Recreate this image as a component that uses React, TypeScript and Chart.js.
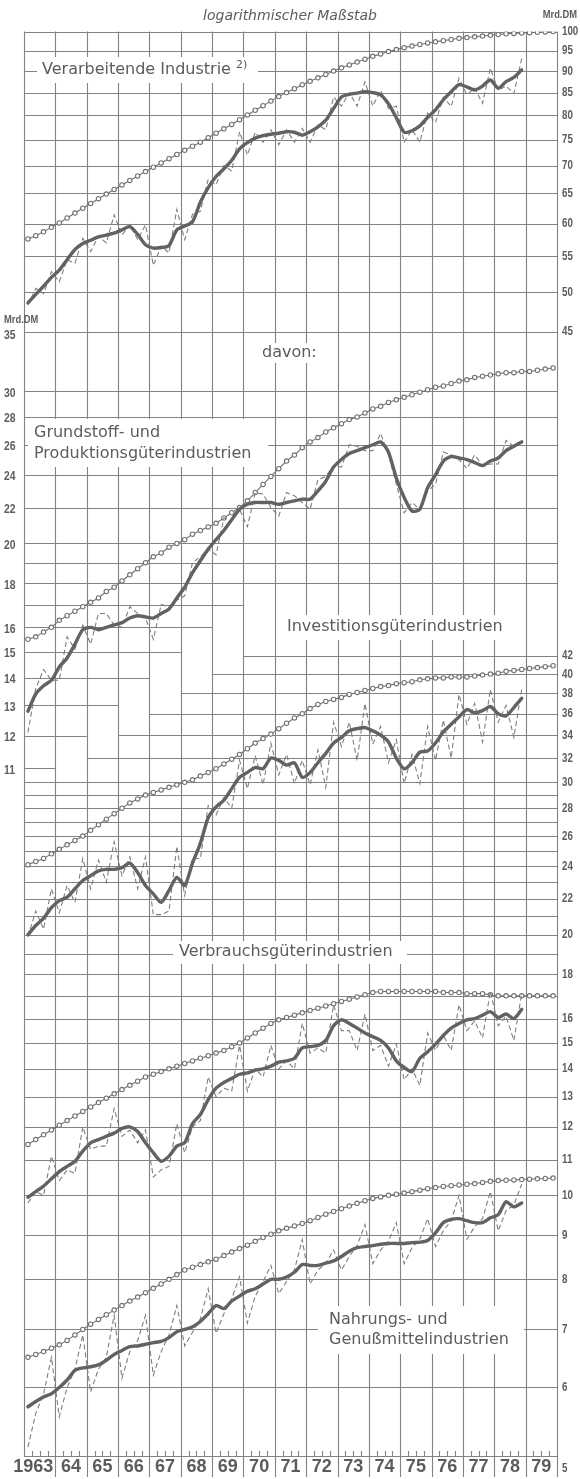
import React, { useEffect, useRef } from 'react';
import { Chart, registerables } from 'chart.js';

Chart.register(...registerables);

// ---------- categories ----------
const YEARS = [1963, 1964, 1965, 1966, 1967, 1968, 1969, 1970, 1971, 1972, 1973, 1974, 1975, 1976, 1977, 1978, 1979];
const YEAR_LABELS = ['1963', '64', '65', '66', '67', '68', '69', '70', '71', '72', '73', '74', '75', '76', '77', '78', '79'];
const QUARTER_OFFSETS = [0.125, 0.375, 0.625, 0.875];

// ---------- tick labels ----------
const TOP_TICKS = [100, 95, 90, 85, 80, 75, 70, 65, 60, 55, 50, 45];
const LEFT_TICKS = [35, 30, 28, 26, 24, 22, 20, 18, 16, 15, 14, 13, 12, 11];
const LOW_TICKS = [42, 40, 38, 36, 34, 32, 30, 28, 26, 24, 22, 20, 18, 16, 15, 14, 13, 12, 11, 10, 9, 8, 7, 6, 5];

// ---------- Verarbeitende Industrie (Mrd. DM) ----------
const verarbPotential = [
  57.6, 58.1, 58.7, 59.4, 60.1, 60.9, 61.7, 62.5, 63.3, 64.1, 64.9, 65.7, 66.5, 67.3, 68.1, 68.9,
  69.7, 70.5, 71.3, 72.1, 72.9, 73.7, 74.5, 75.4, 76.3, 77.2, 78.1, 79.1, 80.1, 81.1, 82.1, 83.1,
  84.1, 85.0, 85.9, 86.8, 87.6, 88.4, 89.2, 90.0, 90.8, 91.5, 92.2, 92.9, 93.6, 94.2, 94.8, 95.3,
  95.8, 96.2, 96.6, 97.0, 97.3, 97.6, 97.9, 98.2, 98.4, 98.6, 98.8, 99.0, 99.2, 99.4, 99.5, 99.6,
  99.7, 99.8, 99.9, 100.0,
];
const verarbAdjusted = [
  48.6, 49.7, 50.8, 52.0, 53.0, 54.5, 56.0, 56.9, 57.4, 57.9, 58.2, 58.5, 59.0, 59.5, 58.3, 56.7,
  56.2, 56.3, 56.6, 59.0, 59.6, 60.3, 63.5, 66.0, 68.0, 69.4, 71.0, 73.2, 74.4, 75.3, 75.8, 76.1,
  76.3, 76.6, 76.5, 75.9, 76.6, 77.6, 79.0, 81.5, 84.0, 84.6, 84.9, 85.2, 85.0, 84.5, 82.5, 79.5,
  76.5, 76.8, 77.8, 79.6, 81.2, 83.4, 85.2, 86.8, 86.3, 85.6, 86.5, 87.9, 86.0, 87.5, 88.5, 90.3,
];
const verarbActual = [
  48.3, 50.5, 49.8, 52.8, 51.4, 54.5, 54.0, 57.7, 55.7, 58.0, 57.0, 61.4, 58.2, 59.8, 57.5, 59.8,
  53.7, 56.5, 55.5, 62.3, 57.5, 61.5, 62.0, 67.5, 66.5, 70.0, 69.0, 76.6, 72.0, 76.5, 74.5, 77.0,
  74.0, 77.0, 74.5, 77.3, 74.5, 78.0, 77.0, 84.0, 82.0, 85.0, 82.0, 87.5, 82.0, 85.5, 81.5, 82.0,
  74.5, 77.0, 74.5, 80.5, 78.5, 84.0, 81.9, 88.3, 84.5, 86.0, 82.6, 90.7, 85.5, 86.5, 84.8, 93.1,
];

// ---------- Grundstoff- und Produktionsgüterindustrien ----------
const grundPotential = [
  15.5, 15.6, 15.8, 16.0, 16.3, 16.5, 16.7, 16.9, 17.1, 17.3, 17.6, 17.8, 18.1, 18.4, 18.7, 19.0,
  19.3, 19.5, 19.8, 20.0, 20.2, 20.5, 20.7, 20.9, 21.1, 21.4, 21.7, 22.0, 22.4, 22.9, 23.4, 23.9,
  24.4, 24.9, 25.3, 25.8, 26.2, 26.5, 26.9, 27.2, 27.5, 27.8, 28.0, 28.3, 28.6, 28.8, 29.1, 29.3,
  29.5, 29.7, 29.9, 30.1, 30.3, 30.4, 30.6, 30.8, 30.9, 31.1, 31.2, 31.3, 31.4, 31.5, 31.5, 31.6,
  31.6, 31.7, 31.8, 31.9,
];
const grundAdjusted = [
  12.8, 13.4, 13.7, 13.9, 14.4, 14.75, 15.3, 15.9, 16.0, 15.9, 16.0, 16.1, 16.2, 16.4, 16.5, 16.45,
  16.4, 16.6, 16.8, 17.3, 17.8, 18.5, 19.1, 19.7, 20.2, 20.7, 21.3, 21.9, 22.2, 22.3, 22.3, 22.3,
  22.2, 22.3, 22.4, 22.5, 22.5, 23.0, 23.6, 24.5, 25.0, 25.4, 25.6, 25.8, 26.0, 26.2, 25.5, 23.8,
  22.6, 21.8, 21.9, 23.2, 24.0, 24.9, 25.2, 25.1, 25.0, 24.8, 24.6, 24.9, 25.1, 25.6, 25.9, 26.2,
];
const grundActual = [
  12.1, 13.6, 14.3, 13.9, 13.9, 15.6, 15.1, 16.1, 15.3, 16.6, 16.6, 16.1, 16.0, 16.9, 16.6, 16.4,
  15.5, 17.0, 16.9, 17.2, 17.4, 19.0, 19.3, 19.7, 19.4, 21.4, 21.3, 21.9, 20.9, 22.9, 22.8, 22.0,
  21.5, 22.9, 22.7, 22.3, 21.9, 23.7, 23.9, 24.6, 24.5, 26.0, 25.9, 25.6, 25.6, 26.8, 25.3, 23.4,
  21.7, 22.3, 21.9, 23.0, 23.4, 25.5, 25.3, 25.0, 24.4, 25.3, 24.6, 24.7, 24.7, 26.3, 25.9, 26.3,
];

// ---------- Investitionsgüterindustrien ----------
const investPotential = [
  24.1, 24.3, 24.5, 24.8, 25.1, 25.4, 25.7, 26.0, 26.4, 26.8, 27.2, 27.6, 28.0, 28.4, 28.7, 29.0,
  29.2, 29.4, 29.6, 29.8, 30.0, 30.2, 30.5, 30.8, 31.1, 31.5, 31.9, 32.3, 32.8, 33.3, 33.7, 34.1,
  34.6, 35.1, 35.6, 36.0, 36.5, 36.9, 37.2, 37.4, 37.6, 37.9, 38.1, 38.3, 38.5, 38.7, 38.8, 39.0,
  39.1, 39.2, 39.4, 39.5, 39.6, 39.6, 39.7, 39.7, 39.7, 39.8, 39.9, 40.0, 40.1, 40.3, 40.4, 40.5,
  40.6, 40.7, 40.8, 40.9,
];
const investAdjusted = [
  20.0, 20.5, 20.9, 21.5, 21.9, 22.1, 22.6, 23.1, 23.4, 23.7, 23.8, 23.8, 23.9, 24.2, 23.6, 22.8,
  22.3, 21.8, 22.5, 23.3, 22.8, 24.2, 25.5, 27.3, 28.1, 28.6, 29.5, 30.4, 30.8, 31.2, 31.1, 32.0,
  31.8, 31.4, 31.6, 30.4, 30.8, 31.6, 32.4, 33.3, 33.8, 34.4, 34.6, 34.7, 34.4, 34.0, 33.4, 32.0,
  31.1, 31.6, 32.5, 32.6, 33.3, 34.3, 35.0, 35.7, 36.4, 36.1, 36.3, 36.7, 36.0, 35.8, 36.6, 37.5,
];
const investActual = [
  19.9, 21.3, 20.3, 22.6, 21.2, 22.8, 21.8, 24.5, 22.6, 24.4, 23.0, 25.6, 23.4, 24.6, 22.6, 24.6,
  21.1, 21.1, 21.3, 25.3, 22.2, 24.5, 24.5, 28.2, 27.5, 28.8, 28.0, 31.8, 29.5, 32.2, 29.8, 33.3,
  30.6, 32.3, 29.9, 31.8, 29.8, 32.7, 29.6, 35.2, 33.0, 35.2, 31.8, 37.0, 33.2, 34.8, 31.6, 33.6,
  29.9, 32.3, 29.9, 34.8, 31.8, 35.4, 32.0, 37.9, 35.0, 37.0, 33.4, 38.4, 35.2, 36.8, 33.8, 38.4,
];

// ---------- Verbrauchsgüterindustrien ----------
const verbrPotential = [
  11.45, 11.6, 11.75, 11.9, 12.05, 12.2, 12.35, 12.5, 12.65, 12.8, 12.95, 13.1, 13.25, 13.4, 13.55, 13.7,
  13.8, 13.9, 14.0, 14.1, 14.2, 14.3, 14.4, 14.5, 14.6, 14.7, 14.85, 15.0, 15.2, 15.4, 15.6, 15.8,
  15.95, 16.05, 16.15, 16.25, 16.35, 16.45, 16.55, 16.65, 16.75, 16.85, 16.95, 17.05, 17.15, 17.2, 17.2, 17.2,
  17.2, 17.2, 17.2, 17.2, 17.2, 17.15, 17.15, 17.15, 17.1, 17.1, 17.1, 17.05, 17.0, 17.0, 17.0, 17.0,
  17.0, 17.0, 17.0, 17.0,
];
const verbrAdjusted = [
  9.95, 10.1, 10.25, 10.45, 10.65, 10.8, 10.95, 11.25, 11.5, 11.6, 11.7, 11.8, 11.95, 12.0, 11.85, 11.5,
  11.2, 10.95, 11.1, 11.4, 11.5, 12.1, 12.4, 12.9, 13.3, 13.5, 13.65, 13.8, 13.85, 13.95, 14.0, 14.1,
  14.25, 14.3, 14.4, 14.8, 14.85, 14.9, 15.1, 15.7, 15.95, 15.8, 15.6, 15.4, 15.25, 15.1, 14.8, 14.3,
  14.05, 13.9, 14.4, 14.65, 14.95, 15.3, 15.6, 15.8, 15.95, 16.0, 16.15, 16.3, 16.05, 16.2, 16.0, 16.4,
];
const verbrActual = [
  9.8, 10.1, 10.0, 11.1, 10.4, 10.7, 10.6, 12.0, 11.3, 11.4, 11.4, 12.6, 11.7, 11.9, 11.5, 11.9,
  10.5, 10.7, 10.8, 12.1, 11.2, 12.0, 12.2, 13.7, 13.0, 13.3, 13.2, 14.9, 13.2, 14.0, 13.7, 14.9,
  14.0, 14.3, 14.0, 15.8, 14.6, 14.8, 14.6, 16.6, 15.5, 15.5, 14.7, 16.2, 14.7, 14.9, 14.1, 14.95,
  13.6, 14.0, 13.4, 15.4, 14.7, 15.3, 14.7, 16.6, 15.5, 15.9, 15.2, 17.2, 15.7, 16.1, 15.1, 17.1,
];

// ---------- Nahrungs- und Genußmittelindustrien ----------
const nahrPotential = [
  6.5, 6.55, 6.6, 6.66, 6.72, 6.8, 6.9, 7.0, 7.1, 7.19, 7.28, 7.37, 7.46, 7.55, 7.63, 7.72,
  7.81, 7.9, 8.0, 8.1, 8.2, 8.26, 8.32, 8.38, 8.44, 8.52, 8.6, 8.68, 8.76, 8.85, 8.94, 9.02,
  9.1, 9.16, 9.22, 9.28, 9.35, 9.43, 9.51, 9.58, 9.65, 9.72, 9.79, 9.86, 9.92, 9.96, 10.0, 10.03,
  10.06, 10.1, 10.14, 10.18, 10.21, 10.24, 10.26, 10.28, 10.3, 10.32, 10.35, 10.38, 10.4, 10.41, 10.42, 10.43,
  10.44, 10.45, 10.46, 10.47,
];
const nahrAdjusted = [
  5.7, 5.78, 5.85, 5.9, 6.0, 6.12, 6.28, 6.32, 6.34, 6.37, 6.45, 6.55, 6.62, 6.69, 6.7, 6.73,
  6.76, 6.78, 6.85, 6.96, 7.0, 7.05, 7.15, 7.3, 7.46, 7.4, 7.55, 7.65, 7.75, 7.8, 7.9, 8.0,
  8.0, 8.05, 8.15, 8.32, 8.3, 8.3, 8.35, 8.4, 8.5, 8.62, 8.7, 8.73, 8.75, 8.78, 8.8, 8.8,
  8.8, 8.82, 8.83, 8.87, 9.05, 9.3, 9.38, 9.4, 9.35, 9.3, 9.3, 9.42, 9.5, 9.83, 9.7, 9.8,
];
const nahrActual = [
  5.12, 5.6, 5.9, 6.5, 5.55, 6.0, 6.3, 6.9, 5.93, 6.3, 6.5, 7.27, 6.15, 6.6, 6.8, 7.27,
  6.2, 6.6, 6.9, 7.46, 6.7, 6.95, 7.2, 7.8, 6.93, 7.3, 7.6, 8.05, 7.12, 7.65, 7.95, 8.3,
  7.7, 7.95, 8.2, 8.89, 7.9, 8.2, 8.35, 8.65, 8.2, 8.5, 8.75, 9.25, 8.34, 8.65, 8.85, 9.3,
  8.34, 8.7, 8.9, 9.4, 8.73, 9.1, 9.35, 10.0, 8.9, 9.2, 9.4, 10.1, 9.1, 9.6, 9.75, 10.3,
];

// ---------- grid layout (which log lines exist, and where they stop) ----------
type GridLine = { v: number; from?: number; to?: number };
const GRID_TOP: GridLine[] = [95, 90, 85, 80, 75, 70, 65, 60, 55, 50, 45].map((v) => ({ v }));
const GRID_LEFT: GridLine[] = [
  { v: 30 }, { v: 28 }, { v: 26 }, { v: 24 }, { v: 22 }, { v: 20 }, { v: 19 }, { v: 18 },
  { v: 17, to: 1970 }, { v: 16, to: 1969 }, { v: 15, to: 1968 }, { v: 14, to: 1967 },
  { v: 13, to: 1966 }, { v: 12, to: 1965 }, { v: 11, to: 1964 },
];
const GRID_LOW: GridLine[] = [
  { v: 42, from: 1970 }, { v: 40, from: 1969 }, { v: 38, from: 1968 }, { v: 36, from: 1967 },
  { v: 34, from: 1966 }, { v: 32, from: 1965 },
  ...[30, 29, 28, 27, 26, 25, 24, 23, 22, 21, 20, 19, 18, 17, 16, 15, 14, 13, 12, 11, 10, 9, 8, 7, 6].map((v) => ({ v })),
];

// ---------- in-chart captions ----------
type Caption = { lines: string[]; x: number; y: number; lh: number; box: [number, number, number, number] };
const CAPTIONS: Caption[] = [
  { lines: ['Verarbeitende Industrie'], x: 42, y: 70, lh: 0, box: [37, 57, 258, 83] },
  { lines: ['davon:'], x: 262, y: 353, lh: 0, box: [256, 343, 320, 363] },
  { lines: ['Grundstoff- und', 'Produktionsgüterindustrien'], x: 34, y: 433, lh: 21, box: [28, 419, 268, 467] },
  { lines: ['Investitionsgüterindustrien'], x: 287, y: 627, lh: 0, box: [281, 615, 520, 640] },
  { lines: ['Verbrauchsgüterindustrien'], x: 179, y: 952, lh: 0, box: [173, 941, 407, 964] },
  { lines: ['Nahrungs- und', 'Genußmittelindustrien'], x: 329, y: 1320, lh: 20, box: [318, 1306, 524, 1354] },
];

const GRID_COLOR = '#828282';
const TEXT_COLOR = '#5c5c5c';
const CAPTION_FONT = '16px "DejaVu Sans", sans-serif';
const TICK_FONT = 'bold 13px "Liberation Sans", Arial, sans-serif';

const quarterX = (i: number) => YEARS[Math.floor(i / 4)] + QUARTER_OFFSETS[i % 4];
const toPoints = (arr: number[]) => arr.map((y, i) => ({ x: quarterX(i), y }));

function squeezedText(ctx: CanvasRenderingContext2D, text: string, x: number, y: number, font: string, align: CanvasTextAlign, sx: number) {
  ctx.save();
  ctx.translate(x, y);
  ctx.scale(sx, 1);
  ctx.font = font;
  ctx.textAlign = align;
  ctx.textBaseline = 'middle';
  ctx.fillText(text, 0, 0);
  ctx.restore();
}

const paperPlugin = {
  id: 'paper',
  beforeDraw(chart: any) {
    const { ctx, chartArea: a, scales } = chart;
    const X = (t: number) => scales.x.getPixelForValue(t);
    const crisp = (p: number) => Math.round(p) + 0.5;
    ctx.save();
    ctx.fillStyle = '#ffffff';
    ctx.fillRect(0, 0, chart.width, chart.height);

    ctx.strokeStyle = GRID_COLOR;
    ctx.lineWidth = 1.1;
    ctx.beginPath();
    const h = (axis: string, g: GridLine) => {
      const y = crisp(scales[axis].getPixelForValue(g.v));
      ctx.moveTo(X(g.from ?? YEARS[0]), y);
      ctx.lineTo(X(g.to ?? YEARS[YEARS.length - 1] + 1), y);
    };
    GRID_TOP.forEach((g) => h('yTop', g));
    GRID_LEFT.forEach((g) => h('yLeft', g));
    GRID_LOW.forEach((g) => h('yLow', g));
    // frame
    ctx.moveTo(a.left, crisp(a.top));
    ctx.lineTo(a.right, crisp(a.top));
    ctx.moveTo(a.left, crisp(a.bottom));
    ctx.lineTo(a.right, crisp(a.bottom));
    // year lines (extended below the axis as label separators, except the first)
    for (let k = 0; k <= YEARS.length; k++) {
      const t = YEARS[0] + k;
      const x = crisp(X(t));
      ctx.moveTo(x, a.top);
      ctx.lineTo(x, k === 0 ? a.bottom : a.bottom + 21);
    }
    // quarter ticks on the time axis
    YEARS.forEach((yr) => {
      [0.25, 0.5, 0.75].forEach((q) => {
        const x = crisp(X(yr + q));
        ctx.moveTo(x, a.bottom - 5);
        ctx.lineTo(x, a.bottom);
      });
    });
    ctx.stroke();

    // captions with white backing
    ctx.fillStyle = '#ffffff';
    CAPTIONS.forEach((c) => {
      const [x0, y0, x1, y1] = c.box;
      ctx.fillRect(x0, y0, x1 - x0, y1 - y0);
    });
    ctx.fillStyle = TEXT_COLOR;
    ctx.font = CAPTION_FONT;
    ctx.textAlign = 'left';
    ctx.textBaseline = 'middle';
    CAPTIONS.forEach((c) => {
      c.lines.forEach((line, i) => ctx.fillText(line, c.x, c.y + i * c.lh));
    });
    // footnote marker
    const w = ctx.measureText('Verarbeitende Industrie').width;
    ctx.font = '11px "DejaVu Sans", sans-serif';
    ctx.fillText('2)', 42 + w + 5, 65);
    ctx.restore();
  },
  afterDraw(chart: any) {
    const { ctx, chartArea: a, scales } = chart;
    const X = (t: number) => scales.x.getPixelForValue(t);
    ctx.save();
    ctx.fillStyle = TEXT_COLOR;
    // title
    ctx.font = 'italic 14px "DejaVu Sans", sans-serif';
    ctx.textAlign = 'center';
    ctx.textBaseline = 'middle';
    ctx.fillText('logarithmischer Maßstab', 290, 16);
    // units
    squeezedText(ctx, 'Mrd.DM', 577, 15, 'bold 11px "Liberation Sans", Arial, sans-serif', 'right', 0.85);
    squeezedText(ctx, 'Mrd.DM', 4, 320, 'bold 11px "Liberation Sans", Arial, sans-serif', 'left', 0.85);
    // right axis: top panel
    TOP_TICKS.forEach((v) => {
      squeezedText(ctx, String(v), a.right + 5, scales.yTop.getPixelForValue(v), TICK_FONT, 'left', 0.75);
    });
    // left axis: Grundstoff
    LEFT_TICKS.forEach((v) => {
      squeezedText(ctx, String(v), 4, scales.yLeft.getPixelForValue(v) + 2, TICK_FONT, 'left', 0.8);
    });
    // right axis: lower panels
    LOW_TICKS.forEach((v) => {
      let y = scales.yLow.getPixelForValue(v);
      if (v === LOW_TICKS[LOW_TICKS.length - 1]) y += 12;
      squeezedText(ctx, String(v), a.right + 5, y, TICK_FONT, 'left', 0.75);
    });
    // years
    YEARS.forEach((yr, i) => {
      const font = 'bold 19px "Liberation Sans", Arial, sans-serif';
      if (i === 0) {
        squeezedText(ctx, YEAR_LABELS[i], X(yr + 1) - 2, a.bottom + 11, font, 'right', 0.95);
      } else {
        squeezedText(ctx, YEAR_LABELS[i], X(yr + 0.5), a.bottom + 11, font, 'center', 0.95);
      }
    });
    ctx.restore();
  },
};

const potentialStyle = {
  borderColor: '#727272',
  borderWidth: 1.1,
  pointRadius: 2.2,
  pointBackgroundColor: '#ffffff',
  pointBorderColor: '#727272',
  pointBorderWidth: 1.1,
  tension: 0,
};
const adjustedStyle = {
  borderColor: '#626262',
  borderWidth: 3.4,
  pointRadius: 0,
  tension: 0.25,
  borderCapStyle: 'round' as const,
  borderJoinStyle: 'round' as const,
};
const actualStyle = {
  borderColor: '#7e7e7e',
  borderWidth: 1.1,
  borderDash: [5, 3],
  pointRadius: 0,
  tension: 0,
};

export default function App() {
  const ref = useRef<HTMLCanvasElement | null>(null);
  useEffect(() => {
    document.body.style.margin = '0';
    const canvas = ref.current;
    if (!canvas) return;
    const panels = [
      { axis: 'yTop', pot: verarbPotential, adj: verarbAdjusted, act: verarbActual },
      { axis: 'yLeft', pot: grundPotential, adj: grundAdjusted, act: grundActual },
      { axis: 'yLow', pot: investPotential, adj: investAdjusted, act: investActual },
      { axis: 'yLow', pot: verbrPotential, adj: verbrAdjusted, act: verbrActual },
      { axis: 'yLow', pot: nahrPotential, adj: nahrAdjusted, act: nahrActual },
    ];
    const adjustedSets = panels.map((p) => ({ ...adjustedStyle, data: toPoints(p.adj), yAxisID: p.axis }));
    const actualSets = panels.map((p) => ({ ...actualStyle, data: toPoints(p.act), yAxisID: p.axis }));
    const potentialSets = panels.map((p) => ({ ...potentialStyle, data: toPoints(p.pot), yAxisID: p.axis }));

    const chart = new Chart(canvas, {
      type: 'line',
      data: { datasets: [...adjustedSets, ...actualSets, ...potentialSets] as any },
      options: {
        animation: false,
        responsive: false,
        events: [],
        layout: { padding: { top: 31.5, bottom: 23, left: 24, right: 23 } },
        plugins: { legend: { display: false }, tooltip: { enabled: false } },
        scales: {
          x: { type: 'linear', min: 1963, max: 1980, display: false, bounds: 'data' },
          yTop: { type: 'logarithmic', min: 2.263, max: 100, display: false, bounds: 'data' },
          yLeft: { type: 'logarithmic', min: 1.766, max: 78.04, display: false, bounds: 'data' },
          yLow: { type: 'logarithmic', min: 5, max: 220.95, display: false, bounds: 'data' },
        } as any,
      },
      plugins: [paperPlugin],
    });
    return () => chart.destroy();
  }, []);
  return <canvas ref={ref} width={580} height={1479} style={{ display: 'block' }} />;
}
